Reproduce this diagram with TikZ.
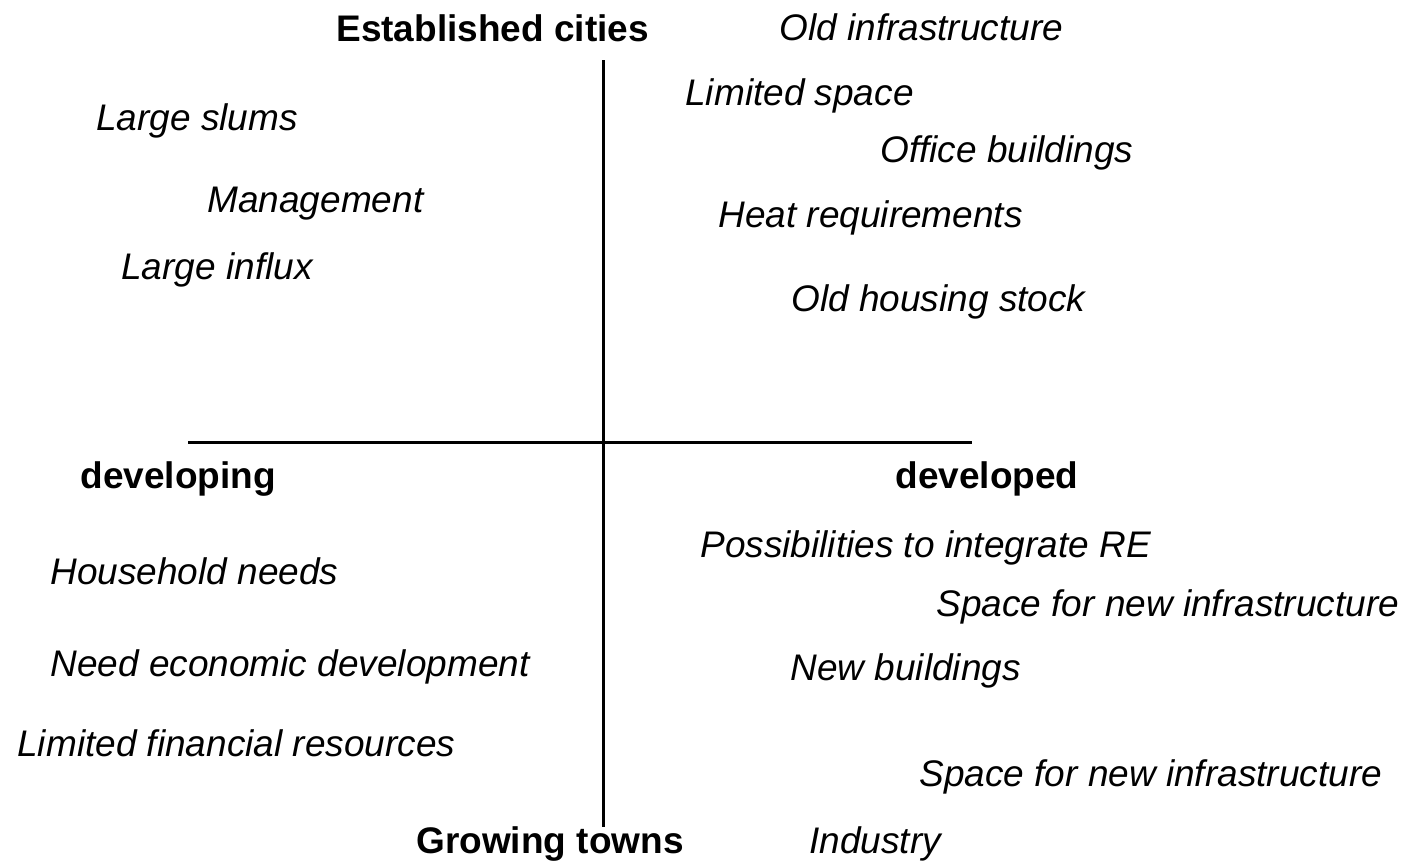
\documentclass[tikz,border=0pt]{standalone}
\usepackage{fontspec}
\setmainfont{Liberation Sans}
\begin{document}
\begin{tikzpicture}[x=0.5pt,y=-0.5pt,
  lbl/.style={anchor=base west,inner sep=0pt,font=\fontsize{18.5}{22}\selectfont\itshape},
  head/.style={anchor=base west,inner sep=0pt,font=\fontsize{18.5}{22}\selectfont\bfseries},
  axis/.style={line width=1.5pt}]
\useasboundingbox (0,0) rectangle (1409,862);
\coordinate (vt) at (603,60);
\coordinate (vb) at (603,827);
\coordinate (hl) at (188,442);
\coordinate (hr) at (972,442);
\draw[axis] (vt) -- (vb);
\draw[axis] (hl) -- (hr);
\node[head] (ec) at (336,41) {Established cities};
\node[head] (dg) at (80,488) {developing};
\node[head] (dd) at (895,488) {developed};
\node[head] (gt) at (416,853) {Growing towns};
\node[lbl] (a1) at (779,40) {Old infrastructure};
\node[lbl] (a2) at (685,105) {Limited space};
\node[lbl] (a3) at (96,130) {Large slums};
\node[lbl] (a4) at (880,162) {Office buildings};
\node[lbl] (a5) at (207,212) {Management};
\node[lbl] (a6) at (718,227) {Heat requirements};
\node[lbl] (a7) at (121,279) {Large influx};
\node[lbl] (a8) at (791,311) {Old housing stock};
\node[lbl] (b1) at (700,557) {Possibilities to integrate RE};
\node[lbl] (b2) at (50,584) {Household needs};
\node[lbl] (b3) at (936,616) {Space for new infrastructure};
\node[lbl] (b4) at (50,676) {Need economic development};
\node[lbl] (b5) at (790,680) {New buildings};
\node[lbl] (b6) at (17,756) {Limited financial resources};
\node[lbl] (b7) at (919,786) {Space for new infrastructure};
\node[lbl] (b8) at (809,853) {Industry};
\end{tikzpicture}
\end{document}
